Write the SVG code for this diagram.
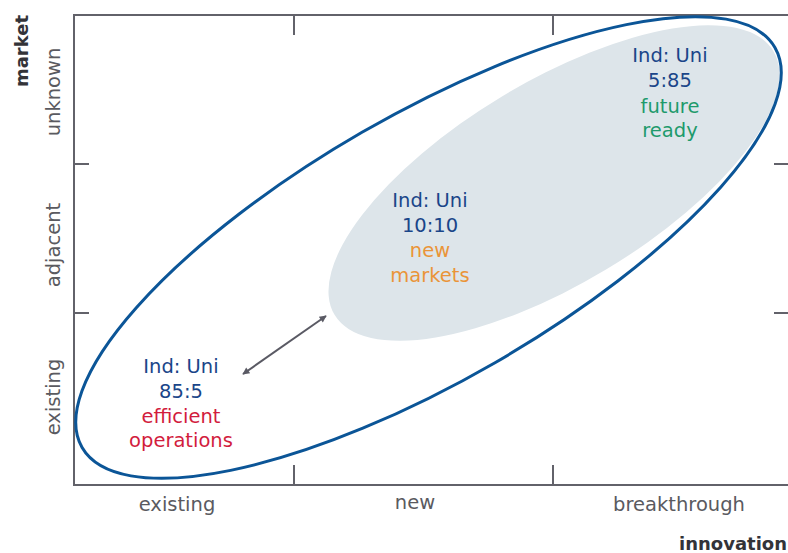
<svg xmlns="http://www.w3.org/2000/svg" width="788" height="553" viewBox="0 0 788 553">
<defs>
<style>
.ax{stroke:#62626a;stroke-width:2;fill:none}
.lbl{font-family:"DejaVu Sans",sans-serif;font-size:19.5px;fill:#5a5a60}
.ttl{font-family:"DejaVu Sans",sans-serif;font-size:18px;font-weight:bold;fill:#333338}
.t{font-family:"DejaVu Sans",sans-serif;font-size:19.5px;text-anchor:middle}
.blue{fill:#1a4589}
.red{fill:#d21c3d}
.orange{fill:#ea9438}
.green{fill:#1e9a6c}
</style>
<marker id="ah" viewBox="0 0 10 10" refX="9" refY="5" markerWidth="9" markerHeight="7" markerUnits="userSpaceOnUse" orient="auto-start-reverse">
<path d="M0,0 L10,5 L0,10 z" fill="#5a5a64"/>
</marker>
</defs>
<rect width="788" height="553" fill="#ffffff"/>
<g id="axes">
<path class="ax" d="M788,15 H74 V485 H788"/>
<path class="ax" d="M74,164 H89 M74,313 H89 M774,164 H788 M774,313 H788 M294,485 V465 M553,485 V465 M294,15 V35 M553,15 V35"/>
</g>
<g id="axis-labels">
<text class="lbl" x="177" y="511" text-anchor="middle">existing</text>
<text class="lbl" x="415" y="509" text-anchor="middle">new</text>
<text class="lbl" x="679" y="511" text-anchor="middle">breakthrough</text>
<text class="ttl" x="787" y="550" text-anchor="end">innovation</text>
<text class="lbl" transform="translate(60,92) rotate(-90)" text-anchor="middle">unknown</text>
<text class="lbl" transform="translate(60,245) rotate(-90)" text-anchor="middle">adjacent</text>
<text class="lbl" transform="translate(60,397) rotate(-90)" text-anchor="middle">existing</text>
<text class="ttl" transform="translate(28,15) rotate(-90)" text-anchor="end">market</text>
</g>
<g id="inner-region">
<ellipse cx="554" cy="183" rx="256" ry="101" transform="rotate(-31 554 183)" fill="#dde5ea"/>
</g>
<g id="outer-region">
<ellipse cx="428.5" cy="247.5" rx="400" ry="133" transform="rotate(-30 428.5 247.5)" fill="none" stroke="#0b5597" stroke-width="3"/>
</g>
<g id="connectors">
<line x1="243" y1="374" x2="326" y2="316" stroke="#5a5a64" stroke-width="2" marker-start="url(#ah)" marker-end="url(#ah)"/>
</g>
<g id="node-efficient">
<text class="t blue" x="181" y="373">Ind: Uni</text>
<text class="t blue" x="181" y="398">85:5</text>
<text class="t red" x="181" y="423">efficient</text>
<text class="t red" x="181" y="447">operations</text>
</g>
<g id="node-new-markets">
<text class="t blue" x="430" y="207">Ind: Uni</text>
<text class="t blue" x="430" y="232">10:10</text>
<text class="t orange" x="430" y="257">new</text>
<text class="t orange" x="430" y="282">markets</text>
</g>
<g id="node-future">
<text class="t blue" x="670" y="62">Ind: Uni</text>
<text class="t blue" x="670" y="87">5:85</text>
<text class="t green" x="670" y="113">future</text>
<text class="t green" x="670" y="137">ready</text>
</g>
</svg>
